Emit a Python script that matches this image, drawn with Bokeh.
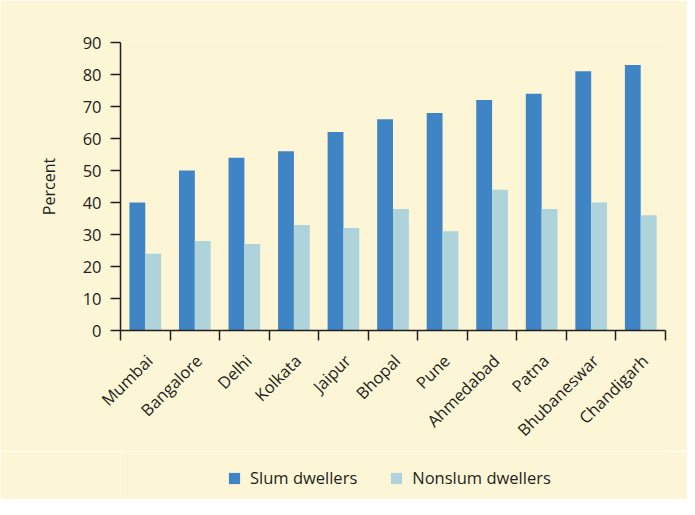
import math
from bokeh.plotting import figure
from bokeh.layouts import column
from bokeh.models import ColumnDataSource, Range1d, FixedTicker, Legend, LegendItem
from bokeh.embed import file_html
from bokeh.resources import INLINE

cities = ["Mumbai", "Bangalore", "Delhi", "Kolkata", "Jaipur", "Bhopal", "Pune",
          "Ahmedabad", "Patna", "Bhubaneswar", "Chandigarh"]
slum = [40, 50, 54, 56, 62, 66, 68, 72, 74, 81, 83]
nonslum = [24, 28, 27, 33, 32, 38, 31, 44, 38, 40, 36]
y_ticks = [0, 10, 20, 30, 40, 50, 60, 70, 80, 90]
series_names = ["Slum dwellers", "Nonslum dwellers"]

BG = "#FDF6D6"
SLUM_C = "#3F85C5"
NON_C = "#AFD3DA"
INK = "#231F20"
FONT = "Open Sans"

n = len(cities)
centers = [i + 0.5 for i in range(n)]
label_pos = [c + 0.08 for c in centers]
bw = 0.32
src = ColumnDataSource(dict(
    xs=[c - bw / 2 for c in centers],
    xn=[c + bw / 2 for c in centers],
    slum=slum, nonslum=nonslum))

W = 687
p = figure(width=W, height=451, output_backend="svg", toolbar_location=None,
           x_range=Range1d(0, n), y_range=Range1d(0, 90),
           min_border_left=120, min_border_top=42, min_border_right=22,
           min_border_bottom=121)
p.background_fill_color = BG
p.border_fill_color = BG
p.outline_line_color = None
p.grid.visible = False

r1 = p.vbar(x="xs", top="slum", width=bw, source=src, fill_color=SLUM_C, line_color=None)
r2 = p.vbar(x="xn", top="nonslum", width=bw, source=src, fill_color=NON_C, line_color=None)

# x axis: labels near centres, ticks at category boundaries
xt = FixedTicker(ticks=label_pos, minor_ticks=list(range(n + 1)))
p.xaxis.ticker = xt
p.xaxis.major_label_overrides = {c: name for c, name in zip(label_pos, cities)}
p.xaxis.major_tick_out = 0
p.xaxis.major_tick_in = 0
p.xaxis.minor_tick_out = 10
p.xaxis.minor_tick_in = 0
p.xaxis.minor_tick_line_color = INK
p.xaxis.minor_tick_line_width = 1.5
p.xaxis.major_label_orientation = math.pi / 4
p.xaxis.major_label_standoff = 17

p.yaxis.ticker = FixedTicker(ticks=y_ticks)
p.yaxis.major_tick_out = 10
p.yaxis.major_tick_in = 0
p.yaxis.minor_tick_line_color = None
p.yaxis.major_label_standoff = 9
p.yaxis.axis_label = "Percent"
p.yaxis.axis_label_standoff = 20
p.yaxis.axis_label_text_font_style = "normal"

for ax in (p.xaxis, p.yaxis):
    ax.axis_line_color = INK
    ax.axis_line_width = 1.5
    ax.major_tick_line_color = INK
    ax.major_tick_line_width = 1.5
    ax.major_label_text_font = FONT
    ax.major_label_text_font_size = "16.5px"
    ax.major_label_text_color = INK
    ax.axis_label_text_font = FONT
    ax.axis_label_text_font_size = "16px"
    ax.axis_label_text_color = INK

# legend strip below the chart (swatch renderers sit outside the visible range)
lg = figure(width=W, height=48, output_backend="svg", toolbar_location=None,
            x_range=Range1d(0, 1), y_range=Range1d(0, 1),
            x_axis_location=None, y_axis_location=None,
            min_border_left=120, min_border_right=22, min_border_top=0,
            min_border_bottom=0)
lg.background_fill_color = BG
lg.border_fill_color = BG
lg.outline_line_color = None
lg.grid.visible = False
k1 = lg.vbar(x=[-5], top=[-5], width=0.1, fill_color=SLUM_C, line_color=None)
k2 = lg.vbar(x=[-5], top=[-5], width=0.1, fill_color=NON_C, line_color=None)
legend = Legend(items=[LegendItem(label=series_names[0], renderers=[k1]),
                       LegendItem(label=series_names[1], renderers=[k2])],
                orientation="horizontal", location=(107, 10),
                background_fill_alpha=0, border_line_color=None,
                glyph_width=14, glyph_height=14, label_standoff=9, spacing=32,
                label_text_font=FONT, label_text_font_size="16.5px",
                label_text_color=INK, padding=0, margin=0)
lg.add_layout(legend, "center")

layout = column(p, lg, spacing=0)
open("out.html", "w").write(file_html(layout, INLINE))
